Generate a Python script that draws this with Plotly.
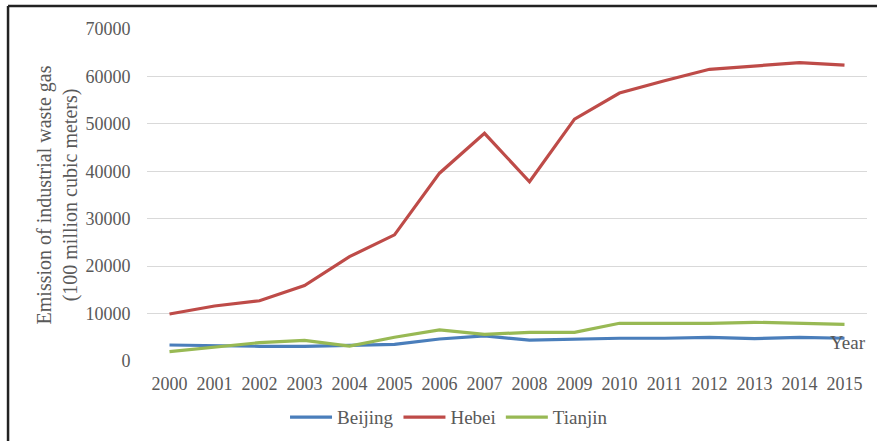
import plotly.graph_objects as go

years = [str(y) for y in range(2000, 2016)]
beijing = [3370, 3200, 3100, 3100, 3300, 3500, 4640, 5300, 4400, 4600, 4800, 4800, 5000, 4700, 5000, 4800]
hebei = [9900, 11600, 12700, 15900, 22000, 26600, 39600, 48000, 37800, 51000, 56500, 59100, 61500, 62200, 62900, 62400]
tianjin = [1960, 2950, 3870, 4360, 3160, 5000, 6540, 5620, 6050, 6050, 7950, 7950, 7950, 8160, 7950, 7740]

series = [("Beijing", beijing, "#4A7EBB"), ("Hebei", hebei, "#BE4B48"), ("Tianjin", tianjin, "#98B954")]

FONT = "Liberation Serif"
GRAY = "#595959"

fig = go.Figure()
for name, vals, color in series:
    fig.add_trace(go.Scatter(x=years, y=vals, name=name, mode="lines",
                             line=dict(color=color, width=3.2)))

fig.update_layout(
    width=877, height=441,
    margin=dict(l=147, r=10, t=29, b=80),
    paper_bgcolor="white", plot_bgcolor="white",
    font=dict(family=FONT, size=18, color=GRAY),
    showlegend=True,
    legend=dict(orientation="h", xref="container", yref="container",
                x=0.512, xanchor="center", y=0.054, yanchor="middle",
                font=dict(family=FONT, size=19, color=GRAY), itemwidth=42,
                traceorder="normal"),
    xaxis=dict(type="category", range=[-0.5, 15.5], automargin=False,
               showgrid=False, zeroline=False, showline=False,
               ticks="outside", ticklen=6, tickcolor="rgba(0,0,0,0)",
               tickfont=dict(family=FONT, size=18, color=GRAY)),
    yaxis=dict(range=[0, 70000], dtick=10000, automargin=False,
               showgrid=True, gridcolor="#D9D9D9", gridwidth=1,
               zeroline=False, showline=False, ticks="outside", ticklen=12,
               tickcolor="rgba(0,0,0,0)", tickformat="d",
               tickfont=dict(family=FONT, size=18, color=GRAY),
               title=dict(text="Emission of industrial waste gas<br>(100 million cubic meters)",
                          font=dict(family=FONT, size=20, color=GRAY), standoff=2)),
    annotations=[dict(text="Year", xref="paper", yref="y", x=1.002, y=4000,
                      xanchor="right", yanchor="middle", showarrow=False,
                      font=dict(family=FONT, size=19, color=GRAY))],
    shapes=[
        dict(type="line", xref="paper", yref="paper", x0=-0.193, x1=1.2, y0=1.069, y1=1.069,
             line=dict(color="#222222", width=2.5)),
        dict(type="line", xref="paper", yref="paper", x0=-0.193, x1=-0.193, y0=1.069, y1=-0.4,
             line=dict(color="#222222", width=2.5)),
    ],
)

fig.write_html("out.html")
